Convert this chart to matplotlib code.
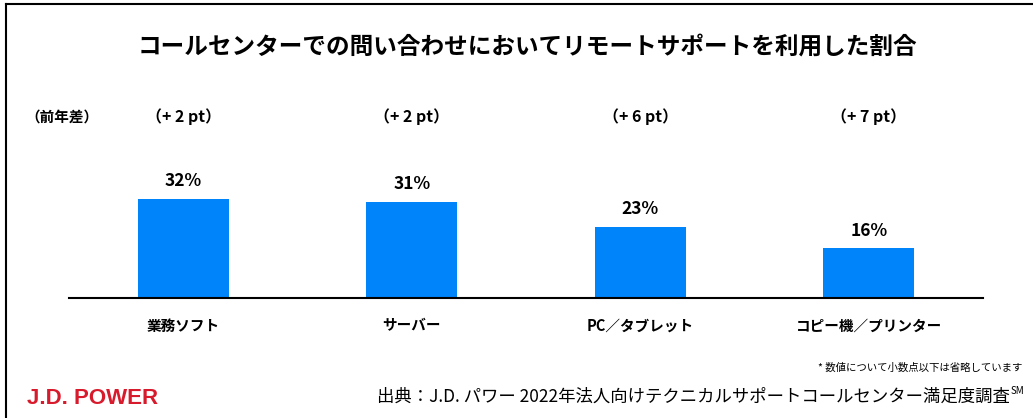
"""Remote support usage in call-center inquiries - bar chart."""

import matplotlib
matplotlib.use("Agg")
import matplotlib.pyplot as plt
from matplotlib.lines import Line2D

plt.rcParams["font.family"] = ["Noto Sans CJK JP", "DejaVu Sans"]

# ---- data ----
categories = ["業務ソフト", "サーバー", "PC／タブレット", "コピー機／プリンター"]
shares = [32, 31, 23, 16]
yoy_labels = ["（+ 2 pt）", "（+ 2 pt）", "（+ 6 pt）", "（+ 7 pt）"]

TITLE = "コールセンターでの問い合わせにおいてリモートサポートを利用した割合"
NOTE = "* 数値について小数点以下は省略しています"
SOURCE = "出典：J.D. パワー 2022年法人向けテクニカルサポートコールセンター満足度調査"

BAR_COLOR = "#0084FA"
LOGO_RED = "#D81B2C"

W, H = 1033, 418
fig = plt.figure(figsize=(W / 100, H / 100), dpi=100)


def fx(px):
    return px / W


def fy(py):
    return 1 - py / H


# plot area: baseline at y=298 px, x from 69 to 983 px
ax = fig.add_axes([fx(69), fy(298), fx(983 - 69), (298 - 90) / H])
x = range(len(categories))
bars = ax.bar(x, shares, width=0.40, color=BAR_COLOR)
ax.set_xlim(-0.5, 3.5)
ax.set_ylim(0, 67)

for b, v in zip(bars, shares):
    ax.annotate(f"{v}%", (b.get_x() + b.get_width() / 2, v),
                xytext=(0, 6), textcoords="offset points",
                ha="center", va="bottom", fontsize=12.5, fontweight="bold")

for spine in ["top", "right", "left"]:
    ax.spines[spine].set_visible(False)
ax.spines["bottom"].set_linewidth(1.5)
ax.set_yticks([])
ax.set_xticks(list(x))
ax.set_xticklabels(categories, fontsize=10.5, fontweight="bold")
ax.tick_params(axis="x", length=0, pad=14)

# year-over-year difference row
trans = ax.get_xaxis_transform()
for i, lab in enumerate(yoy_labels):
    ax.text(i, (298 - 117) / (298 - 90), lab, transform=trans,
            ha="center", va="center", fontsize=11.5, fontweight="bold")
fig.text(fx(62), fy(117), "（前年差）", ha="center", va="center",
         fontsize=10.5, fontweight="bold")

# title
fig.text(fx(527), fy(47), TITLE, ha="center", va="center",
         fontsize=17, fontweight="bold")

# footer
fig.text(fx(1022), fy(368), NOTE, ha="right", va="center", fontsize=7.5)
fig.text(fx(1010), fy(397), SOURCE, ha="right", va="center", fontsize=12.5)
fig.text(fx(1011), fy(391), "SM", ha="left", va="center", fontsize=7)
fig.text(fx(27), fy(398), "J.D. POWER", ha="left", va="center",
         fontsize=16, fontweight="bold", color=LOGO_RED,
         family=["Liberation Sans", "DejaVu Sans"])

# frame lines (left and top)
fig.add_artist(Line2D([fx(6), fx(6)], [fy(4), 0], color="black", lw=1.5))
fig.add_artist(Line2D([fx(6), 1], [fy(4), fy(4)], color="black", lw=1.5))

fig.savefig("out.png", dpi=100)
